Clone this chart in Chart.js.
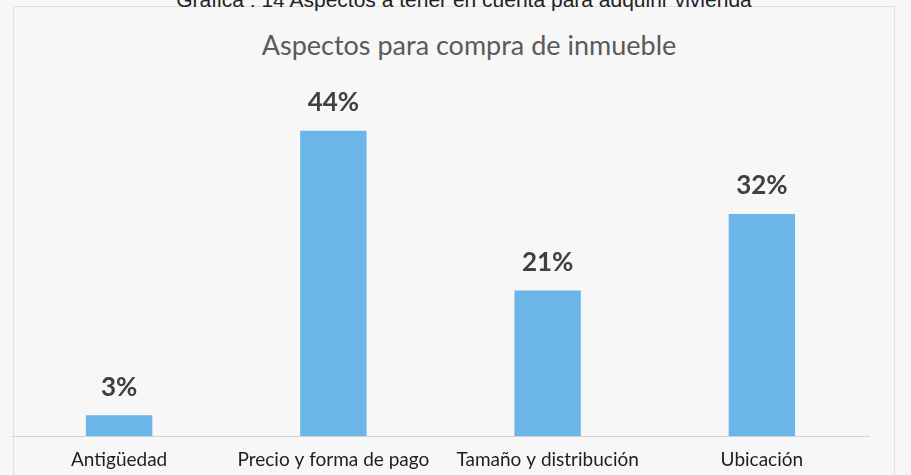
<!DOCTYPE html>
<html>
<head>
<meta charset="utf-8">
<script src="https://cdn.jsdelivr.net/npm/chart.js@4"></script>
<style>
  html, body { margin: 0; padding: 0; background: #f7f7f8; }
  #wrap { position: relative; width: 911px; height: 475px; overflow: hidden; }
  #frame { position: absolute; left: 13px; top: 6px; width: 880px; height: 480px; border: 1px solid #e0e0e2; }
  #caption { position: absolute; top: -12px; left: 0; width: 928px; text-align: center;
    font: 21px "Liberation Sans", Arial, sans-serif; color: #222; }
  #title { position: absolute; top: 28px; left: 0; width: 938px; text-align: center;
    font: 27px Lato, sans-serif; color: #5a5a5a; }
  canvas { position: absolute; left: 0; top: 0; }
</style>
</head>
<body>
<div id="wrap">
  <div id="frame"></div>
  <div id="caption">Gráfica : 14 Aspectos a tener en cuenta para adquirir vivienda</div>
  <div id="title">Aspectos para compra de inmueble</div>
  <canvas id="chart" width="911" height="475"></canvas>
</div>
<script>
const categories = ["Antigüedad", "Precio y forma de pago", "Tamaño y distribución", "Ubicación"];
const percents = [3, 44, 21, 32];

// draws the "44%" style labels over each bar
const barLabels = {
    id: 'barLabels',
    afterDatasetsDraw(chart) {
        const ctx = chart.ctx;
        ctx.save();
        ctx.font = 'bold 26px Lato, sans-serif';
        ctx.fillStyle = '#404040';
        ctx.textAlign = 'center';
        ctx.textBaseline = 'middle';
        chart.getDatasetMeta(0).data.forEach((bar, i) => {
            ctx.fillText(percents[i] + '%', bar.x, bar.y - 28);
        });
        ctx.restore();
    }
};

new Chart(document.getElementById('chart'), {
    type: 'bar',
    data: {
        labels: categories,
        datasets: [{
            data: percents,
            backgroundColor: '#6cb5e9',
            categoryPercentage: 1,
            barPercentage: 0.31
        }]
    },
    options: {
        responsive: false,
        animation: false,
        layout: { padding: { top: 89, left: 12, right: 42, bottom: 0 } },
        plugins: { legend: { display: false }, tooltip: { enabled: false } },
        scales: {
            y: { display: false, min: 0, max: 50 },
            x: {
                grid: { display: false },
                border: { display: true, color: '#d6d6d8', width: 1 },
                ticks: { color: '#1e1e1e', font: { family: 'Lato', size: 19 }, padding: 4, maxRotation: 0, autoSkip: false }
            }
        }
    },
    plugins: [barLabels]
});
</script>
</body>
</html>
